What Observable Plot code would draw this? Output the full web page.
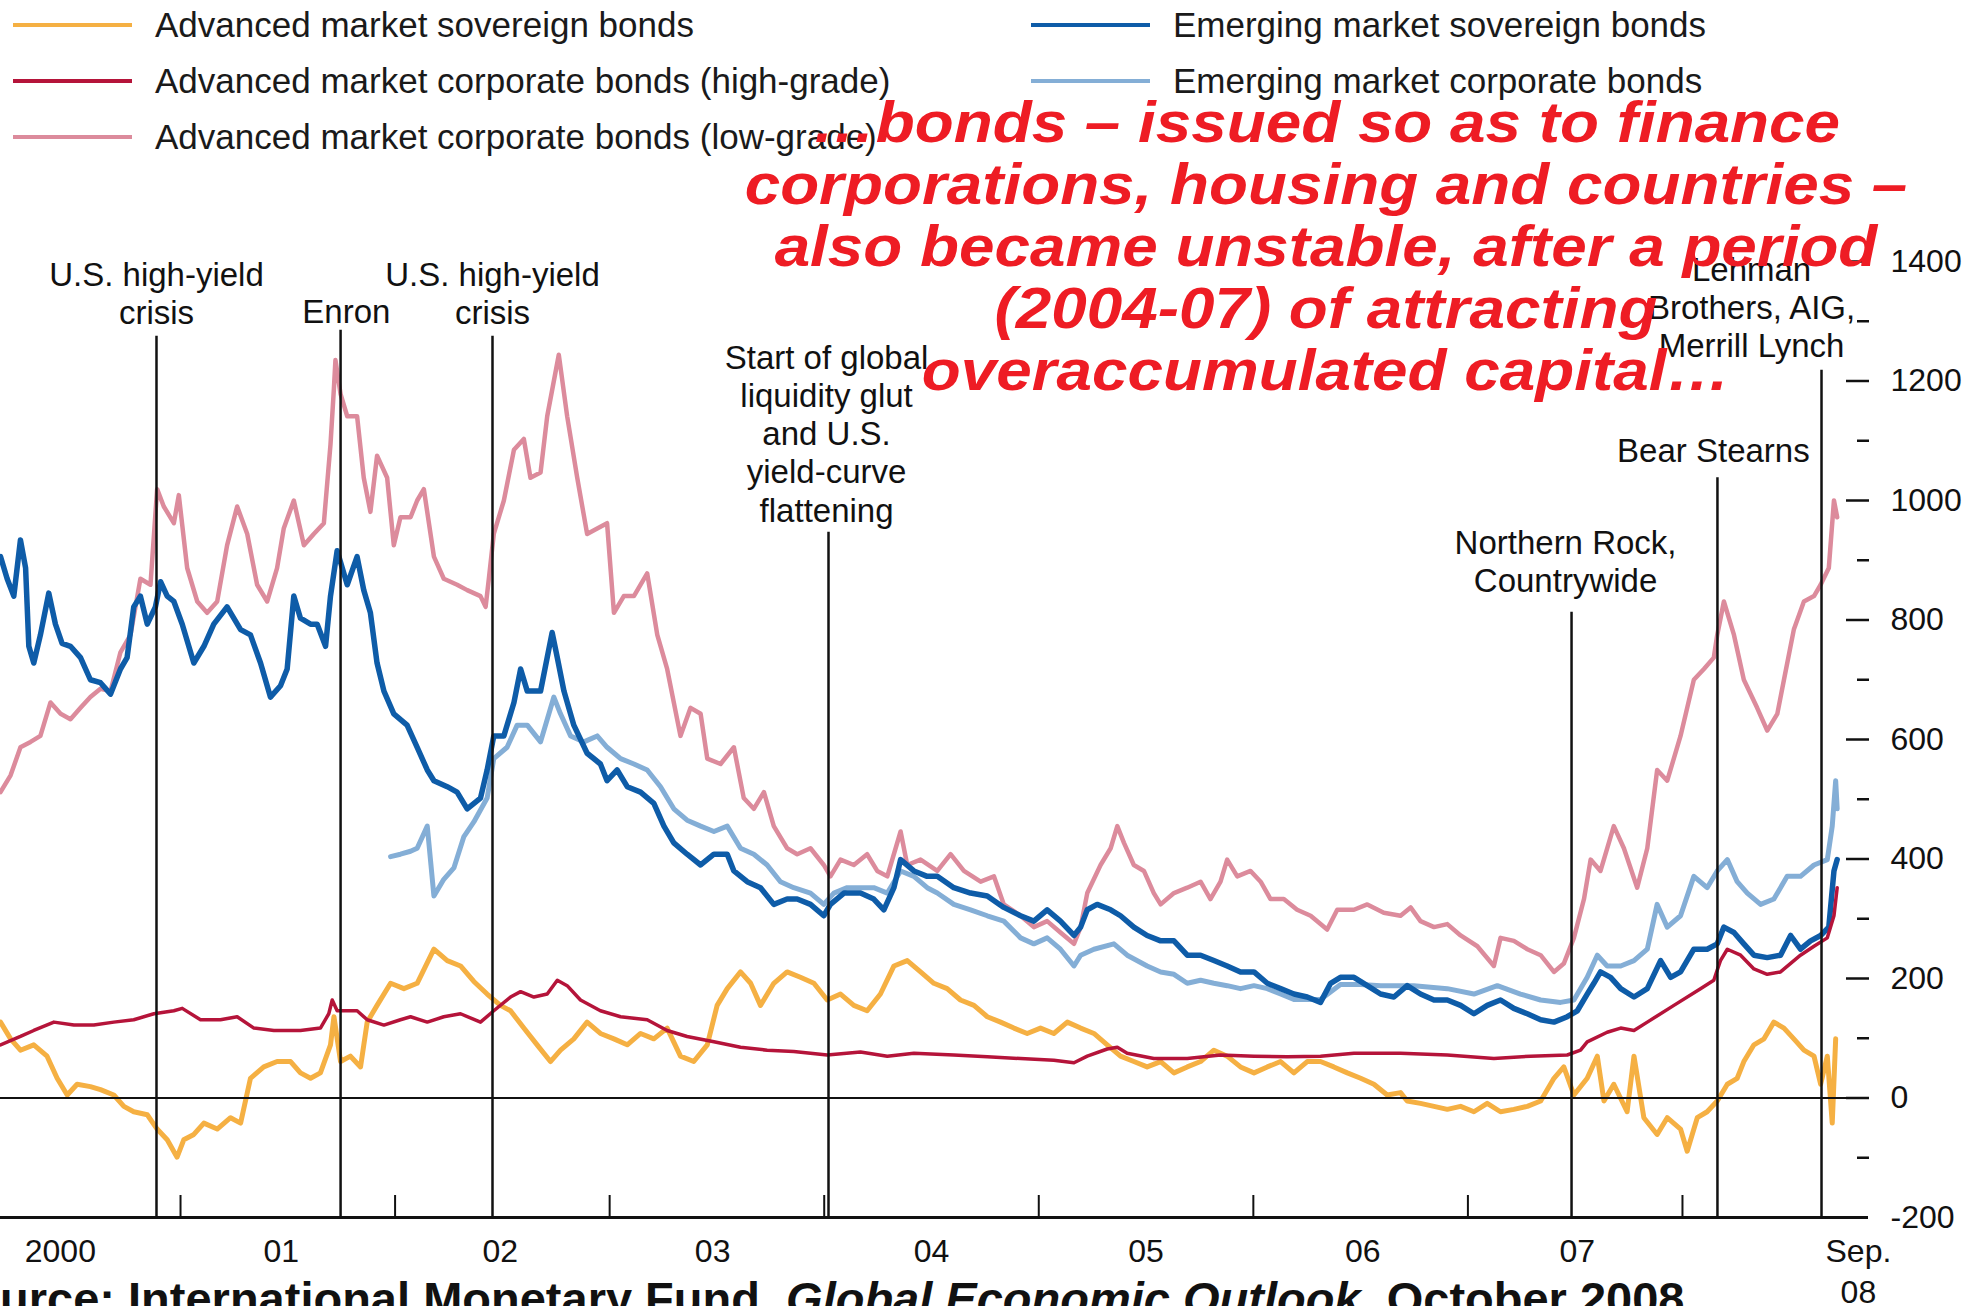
<!DOCTYPE html>
<html><head><meta charset="utf-8">
<script src="https://cdn.jsdelivr.net/npm/d3@7"></script>
<script src="https://cdn.jsdelivr.net/npm/@observablehq/plot@0.6"></script>
<style>
html,body{margin:0;padding:0;background:#fff;}
#page{position:relative;width:1971px;height:1306px;overflow:hidden;font-family:"Liberation Sans",Arial,Helvetica,sans-serif;background:#fff;}
#legend{position:absolute;left:13px;top:-3px;display:grid;grid-auto-flow:column;grid-template-rows:repeat(3,56px);grid-template-columns:1018px auto;}
.item{display:flex;align-items:center;font-size:35px;color:#1a1a1a;white-space:nowrap;}
.sw{width:119px;height:0;border-top:4px solid;margin-right:23px;}
#chart{position:absolute;left:0;top:180px;}
#note{position:absolute;left:676px;width:1300px;top:91px;text-align:center;color:#ee1c24;font:italic bold 58px/62px "Liberation Sans",Arial,sans-serif;white-space:pre;transform:scaleX(1.1);transform-origin:50% 0;}
#source{position:absolute;left:-60px;top:1271px;font:bold 47px "Liberation Sans",Arial,sans-serif;white-space:nowrap;color:#111;}
</style></head>
<body><div id="page"><div id="legend"></div><div id="chart"></div><div id="note"></div><div id="source"></div></div>
<script>
// ---------- data (basis points; x = decimal year) ----------
const seriesNames = [
  "Advanced market sovereign bonds",
  "Advanced market corporate bonds (high-grade)",
  "Advanced market corporate bonds (low-grade)",
  "Emerging market sovereign bonds",
  "Emerging market corporate bonds"
];
const seriesColors = ["#f5b043", "#b5143a", "#dc8b9c", "#0e5ca8", "#84aed6"];

const amSov = [[2000.161,127],[2000.208,99],[2000.254,80],[2000.316,89],[2000.378,70],[2000.425,33],[2000.472,5],[2000.518,23],[2000.580,19],[2000.627,14],[2000.689,5],[2000.736,-14],[2000.782,-23],[2000.845,-28],[2000.891,-52],[2000.938,-70],[2000.984,-99],[2001.015,-70],[2001.062,-61],[2001.109,-42],[2001.171,-52],[2001.233,-33],[2001.280,-42],[2001.326,33],[2001.388,52],[2001.450,61],[2001.513,61],[2001.559,42],[2001.606,33],[2001.652,42],[2001.699,89],[2001.715,136],[2001.746,61],[2001.792,70],[2001.839,52],[2001.870,127],[2001.916,155],[2001.979,192],[2002.041,183],[2002.103,192],[2002.181,249],[2002.243,230],[2002.305,221],[2002.367,195],[2002.429,174],[2002.491,155],[2002.538,146],[2002.600,117],[2002.662,89],[2002.724,61],[2002.771,80],[2002.833,99],[2002.895,127],[2002.957,108],[2003.020,99],[2003.082,89],[2003.144,108],[2003.206,99],[2003.268,117],[2003.330,70],[2003.392,61],[2003.455,89],[2003.501,155],[2003.548,183],[2003.610,211],[2003.657,192],[2003.703,155],[2003.765,192],[2003.827,211],[2003.889,202],[2003.952,192],[2004.014,164],[2004.076,174],[2004.138,155],[2004.200,146],[2004.262,174],[2004.325,221],[2004.387,230],[2004.449,211],[2004.511,192],[2004.573,183],[2004.635,164],[2004.698,155],[2004.760,136],[2004.822,127],[2004.884,117],[2004.946,108],[2005.008,117],[2005.070,108],[2005.133,127],[2005.195,117],[2005.257,108],[2005.319,89],[2005.381,70],[2005.443,61],[2005.505,52],[2005.568,61],[2005.630,42],[2005.692,52],[2005.754,61],[2005.816,80],[2005.878,70],[2005.940,52],[2006.003,42],[2006.065,52],[2006.127,61],[2006.189,42],[2006.251,61],[2006.313,61],[2006.375,52],[2006.438,42],[2006.500,33],[2006.562,23],[2006.624,5],[2006.686,9],[2006.717,-5],[2006.779,-9],[2006.842,-14],[2006.904,-19],[2006.966,-14],[2007.028,-23],[2007.090,-9],[2007.152,-23],[2007.214,-19],[2007.277,-14],[2007.339,-5],[2007.401,33],[2007.447,52],[2007.494,5],[2007.556,33],[2007.603,70],[2007.634,-5],[2007.680,23],[2007.742,-23],[2007.774,70],[2007.820,-33],[2007.882,-61],[2007.929,-33],[2007.991,-52],[2008.022,-89],[2008.069,-33],[2008.115,-23],[2008.162,-5],[2008.209,23],[2008.255,33],[2008.286,61],[2008.333,89],[2008.380,99],[2008.426,127],[2008.473,117],[2008.519,99],[2008.566,80],[2008.613,70],[2008.644,23],[2008.675,70],[2008.698,-42],[2008.714,99]];

const amCorpHigh = [[2000.161,89],[2000.254,103],[2000.316,113],[2000.410,127],[2000.503,122],[2000.596,122],[2000.689,127],[2000.782,131],[2000.876,141],[2000.969,146],[2001.008,150],[2001.093,131],[2001.186,131],[2001.264,136],[2001.342,117],[2001.435,113],[2001.559,113],[2001.652,117],[2001.691,141],[2001.707,164],[2001.730,146],[2001.823,146],[2001.870,131],[2001.948,122],[2002.025,131],[2002.072,136],[2002.150,127],[2002.227,136],[2002.305,141],[2002.398,127],[2002.460,146],[2002.538,169],[2002.585,178],[2002.647,169],[2002.709,174],[2002.756,197],[2002.802,188],[2002.864,164],[2002.957,146],[2003.051,136],[2003.175,131],[2003.268,113],[2003.361,103],[2003.486,94],[2003.610,85],[2003.734,80],[2003.858,78],[2004.014,72],[2004.169,77],[2004.294,70],[2004.418,75],[2004.604,72],[2004.760,69],[2004.915,66],[2005.070,63],[2005.164,59],[2005.226,70],[2005.319,82],[2005.366,85],[2005.412,75],[2005.536,66],[2005.692,66],[2005.847,72],[2006.003,70],[2006.158,69],[2006.313,70],[2006.469,75],[2006.686,75],[2006.904,72],[2007.121,66],[2007.292,70],[2007.463,72],[2007.525,80],[2007.556,94],[2007.649,110],[2007.712,117],[2007.774,113],[2007.836,127],[2007.960,155],[2008.084,183],[2008.146,197],[2008.177,230],[2008.209,249],[2008.271,239],[2008.333,216],[2008.395,207],[2008.457,211],[2008.550,239],[2008.613,254],[2008.675,268],[2008.706,305],[2008.721,352]];

const amCorpLow = [[2000.161,512],[2000.208,540],[2000.254,587],[2000.301,596],[2000.347,606],[2000.394,662],[2000.441,643],[2000.487,634],[2000.534,653],[2000.580,671],[2000.627,685],[2000.674,681],[2000.720,746],[2000.767,775],[2000.813,869],[2000.860,859],[2000.891,1019],[2000.922,990],[2000.969,962],[2000.992,1009],[2001.031,887],[2001.078,831],[2001.124,812],[2001.171,831],[2001.217,925],[2001.264,990],[2001.311,944],[2001.357,859],[2001.404,831],[2001.450,887],[2001.481,953],[2001.528,1000],[2001.575,925],[2001.621,944],[2001.668,962],[2001.699,1094],[2001.715,1188],[2001.722,1235],[2001.746,1178],[2001.777,1141],[2001.823,1141],[2001.854,1038],[2001.885,981],[2001.916,1075],[2001.963,1038],[2001.994,925],[2002.025,972],[2002.072,972],[2002.103,1000],[2002.134,1019],[2002.181,906],[2002.227,869],[2002.289,859],[2002.336,850],[2002.398,840],[2002.422,822],[2002.437,869],[2002.460,944],[2002.507,1000],[2002.554,1085],[2002.600,1103],[2002.631,1038],[2002.678,1047],[2002.709,1141],[2002.763,1244],[2002.802,1141],[2002.849,1038],[2002.895,944],[2002.942,953],[2002.988,962],[2003.020,812],[2003.066,840],[2003.113,840],[2003.175,878],[2003.222,775],[2003.268,718],[2003.330,606],[2003.377,653],[2003.424,643],[2003.455,568],[2003.517,559],[2003.579,587],[2003.625,502],[2003.672,484],[2003.719,512],[2003.765,455],[2003.827,418],[2003.874,408],[2003.936,418],[2003.998,390],[2004.029,371],[2004.076,399],[2004.138,390],[2004.200,408],[2004.247,380],[2004.294,371],[2004.356,446],[2004.387,390],[2004.449,399],[2004.527,380],[2004.589,408],[2004.651,380],[2004.729,362],[2004.791,371],[2004.837,324],[2004.915,305],[2004.977,286],[2005.039,296],[2005.101,277],[2005.164,258],[2005.195,286],[2005.226,343],[2005.288,390],[2005.335,418],[2005.366,455],[2005.397,427],[2005.443,390],[2005.490,380],[2005.536,343],[2005.568,324],[2005.630,343],[2005.692,352],[2005.754,362],[2005.800,333],[2005.847,362],[2005.878,399],[2005.925,371],[2005.987,380],[2006.034,362],[2006.080,333],[2006.142,333],[2006.204,315],[2006.267,305],[2006.344,282],[2006.391,315],[2006.469,315],[2006.531,324],[2006.608,310],[2006.686,305],[2006.733,319],[2006.779,296],[2006.842,286],[2006.904,291],[2006.966,272],[2007.044,254],[2007.121,221],[2007.152,268],[2007.214,263],[2007.277,249],[2007.339,239],[2007.401,211],[2007.447,225],[2007.494,268],[2007.541,333],[2007.572,399],[2007.618,380],[2007.680,455],[2007.727,418],[2007.789,352],[2007.836,418],[2007.882,549],[2007.929,531],[2007.991,606],[2008.053,700],[2008.100,718],[2008.146,737],[2008.162,775],[2008.193,831],[2008.240,775],[2008.286,700],[2008.348,653],[2008.395,615],[2008.442,643],[2008.473,700],[2008.519,784],[2008.566,831],[2008.613,840],[2008.644,859],[2008.682,887],[2008.706,1000],[2008.721,972]];

const emSov = [[2000.161,906],[2000.192,869],[2000.223,840],[2000.254,934],[2000.278,887],[2000.293,756],[2000.316,728],[2000.347,775],[2000.386,845],[2000.417,793],[2000.448,761],[2000.487,756],[2000.534,737],[2000.580,700],[2000.627,695],[2000.674,676],[2000.720,718],[2000.751,737],[2000.782,822],[2000.813,840],[2000.845,793],[2000.883,822],[2000.907,864],[2000.938,840],[2000.969,831],[2001.008,793],[2001.062,728],[2001.109,756],[2001.155,793],[2001.217,822],[2001.280,784],[2001.326,775],[2001.373,728],[2001.419,671],[2001.466,690],[2001.497,718],[2001.528,840],[2001.559,803],[2001.606,793],[2001.637,793],[2001.676,756],[2001.699,840],[2001.730,916],[2001.777,859],[2001.823,906],[2001.854,850],[2001.885,812],[2001.916,728],[2001.948,681],[2001.994,643],[2002.056,624],[2002.103,587],[2002.150,549],[2002.181,531],[2002.243,521],[2002.289,512],[2002.336,484],[2002.398,502],[2002.429,549],[2002.460,606],[2002.507,606],[2002.554,662],[2002.585,718],[2002.616,681],[2002.678,681],[2002.732,779],[2002.756,737],[2002.787,681],[2002.833,624],[2002.895,577],[2002.957,559],[2002.988,531],[2003.035,549],[2003.082,521],[2003.144,512],[2003.206,493],[2003.253,455],[2003.299,427],[2003.361,408],[2003.424,390],[2003.486,408],[2003.548,408],[2003.579,380],[2003.641,362],[2003.703,352],[2003.765,324],[2003.827,333],[2003.874,333],[2003.936,324],[2003.998,305],[2004.029,324],[2004.092,343],[2004.169,343],[2004.231,333],[2004.278,315],[2004.325,352],[2004.356,399],[2004.418,380],[2004.480,371],[2004.527,371],[2004.604,352],[2004.682,343],[2004.760,338],[2004.837,319],[2004.915,305],[2004.977,296],[2005.039,315],[2005.101,296],[2005.164,272],[2005.195,286],[2005.226,315],[2005.272,324],[2005.335,315],[2005.381,305],[2005.443,286],[2005.505,272],[2005.568,263],[2005.630,263],[2005.692,239],[2005.754,239],[2005.816,230],[2005.878,221],[2005.940,211],[2006.003,211],[2006.065,192],[2006.127,183],[2006.189,174],[2006.251,169],[2006.313,160],[2006.360,192],[2006.406,202],[2006.469,202],[2006.531,188],[2006.593,174],[2006.655,169],[2006.717,188],[2006.779,174],[2006.842,164],[2006.904,164],[2006.966,155],[2007.028,141],[2007.090,155],[2007.152,164],[2007.214,150],[2007.277,141],[2007.339,131],[2007.401,127],[2007.463,136],[2007.510,146],[2007.556,174],[2007.587,192],[2007.618,211],[2007.665,202],[2007.712,183],[2007.774,169],[2007.836,183],[2007.898,230],[2007.945,202],[2007.991,211],[2008.053,249],[2008.115,249],[2008.162,258],[2008.193,286],[2008.240,277],[2008.286,258],[2008.333,239],[2008.395,235],[2008.457,239],[2008.504,272],[2008.550,249],[2008.597,263],[2008.644,272],[2008.682,286],[2008.706,380],[2008.721,399]];

const emCorp = [[2001.979,404],[2002.025,408],[2002.072,413],[2002.103,418],[2002.150,455],[2002.181,338],[2002.227,366],[2002.274,385],[2002.320,437],[2002.367,462],[2002.429,502],[2002.460,568],[2002.522,587],[2002.569,624],[2002.616,624],[2002.678,596],[2002.740,671],[2002.771,643],[2002.818,606],[2002.880,596],[2002.942,606],[2002.988,587],[2003.051,568],[2003.113,559],[2003.175,549],[2003.237,521],[2003.299,484],[2003.361,465],[2003.424,455],[2003.486,446],[2003.548,455],[2003.610,418],[2003.672,408],[2003.734,390],[2003.796,362],[2003.858,352],[2003.936,343],[2003.998,324],[2004.045,343],[2004.107,352],[2004.169,352],[2004.231,352],[2004.294,343],[2004.356,380],[2004.418,371],[2004.480,352],[2004.527,343],[2004.604,324],[2004.682,315],[2004.760,305],[2004.837,296],[2004.915,268],[2004.977,258],[2005.039,268],[2005.101,249],[2005.164,221],[2005.195,239],[2005.257,249],[2005.350,258],[2005.412,239],[2005.505,221],[2005.568,211],[2005.630,207],[2005.692,192],[2005.754,197],[2005.816,192],[2005.878,188],[2005.940,183],[2006.003,188],[2006.065,183],[2006.127,174],[2006.189,165],[2006.313,165],[2006.406,190],[2006.500,190],[2006.593,188],[2006.748,188],[2006.904,183],[2007.028,174],[2007.137,188],[2007.245,174],[2007.339,164],[2007.432,160],[2007.494,164],[2007.556,202],[2007.603,239],[2007.649,221],[2007.712,221],[2007.774,230],[2007.836,249],[2007.882,324],[2007.929,286],[2007.991,305],[2008.053,371],[2008.115,352],[2008.162,380],[2008.209,399],[2008.255,362],[2008.302,343],[2008.364,324],[2008.426,333],[2008.488,371],[2008.550,371],[2008.613,390],[2008.675,399],[2008.698,455],[2008.714,531],[2008.721,484]];

const seriesData = [amSov, amCorpHigh, amCorpLow, emSov, emCorp];
const drawOrder = [0, 2, 4, 3, 1];
const strokeWidths = [5, 3.5, 4.5, 5.5, 5];

const eventDates  = [2000.888, 2001.746, 2002.454, 2004.020, 2007.483, 2008.163, 2008.648];
const eventTops   = [1275, 1285, 1275, 947, 813, 1038, 1218];
const eventLabels = ["U.S. high-yield\ncrisis", "Enron", "U.S. high-yield\ncrisis",
  "Start of global\nliquidity glut\nand U.S.\nyield-curve\nflattening",
  "Northern Rock,\nCountrywide", "Bear Stearns", "Lehman\nBrothers, AIG,\nMerrill Lynch"];
const eventLabelX = [2000.888, 2001.773, 2002.454, 2004.011, 2007.455, 2008.144, 2008.322];
const eventLabelY = [1348, 1317, 1348, 1113, 899, 1085, 1324];

const yMajorTicks = [0, 200, 400, 600, 800, 1000, 1200, 1400];
const yMinorTicks = [-100, 100, 300, 500, 700, 900, 1100, 1300];
const yTickLabels = [-200, 0, 200, 400, 600, 800, 1000, 1200, 1400];
const yearTicks = [2001, 2002, 2003, 2004, 2005, 2006, 2007, 2008];
const xLabelText = ["2000", "01", "02", "03", "04", "05", "06", "07", "Sep.\n08"];
const xLabelPos  = [2000.44, 2001.47, 2002.49, 2003.48, 2004.5, 2005.5, 2006.51, 2007.51, 2008.82];

const noteLines = ["…bonds – issued so as to finance", "corporations, housing and countries –",
  "also became unstable, after a period", "(2004-07) of attracting", "overaccumulated capital…"];

// ---------- legend ----------
const legend = document.getElementById("legend");
seriesNames.forEach((name, i) => {
  const it = document.createElement("div");
  it.className = "item";
  it.innerHTML = `<span class="sw" style="border-color:${seriesColors[i]}"></span><span>${name}</span>`;
  legend.appendChild(it);
});

// ---------- chart ----------
const events = eventDates.map((d, i) => ({date: d, top: eventTops[i], label: eventLabels[i], lx: eventLabelX[i], ly: eventLabelY[i]}));
const xLabels = xLabelText.map((t, i) => ({t, x: xLabelPos[i]}));

const lineMarks = drawOrder.map(i => Plot.line(seriesData[i], {
  x: d => d[0], y: d => d[1], stroke: seriesColors[i], strokeWidth: strokeWidths[i],
  strokeLinejoin: "round", strokeLinecap: "round"
}));

const chart = Plot.plot({
  width: 1971, height: 1126,
  marginLeft: 0, marginRight: 103, marginTop: 81, marginBottom: 89,
  x: {domain: [2000.161, 2008.867], axis: null},
  y: {domain: [-200, 1400], axis: null},
  style: {fontFamily: '"Liberation Sans", Arial, sans-serif', fontSize: "32px", color: "#111", background: "transparent", overflow: "visible"},
  marks: [
    ...lineMarks,
    Plot.ruleY([0], {stroke: "#111", strokeWidth: 2}),
    Plot.ruleY([-200], {stroke: "#111", strokeWidth: 3}),
    Plot.ruleX(events, {x: "date", y1: -200, y2: "top", stroke: "#111", strokeWidth: 2.5}),
    Plot.text(events, {x: "lx", y: "ly", text: "label", lineAnchor: "middle", textAnchor: "middle", fontSize: 33, lineHeight: 1.16, fill: "#111"}),
    Plot.axisX(yearTicks, {anchor: "bottom", tickSize: 22, dy: -22, fill: "none", label: null, stroke: "#111", strokeWidth: 2}),
    Plot.text(xLabels, {x: "x", y: () => -200, text: "t", dy: 15, lineAnchor: "top", textAnchor: "middle", fontSize: 32, lineHeight: 1.28, fill: "#111"}),
    Plot.axisY(yMajorTicks, {anchor: "right", tickSize: 23, dx: -23, fill: "none", label: null, stroke: "#111", strokeWidth: 2.5}),
    Plot.axisY(yMinorTicks, {anchor: "right", tickSize: 12, dx: -12, fill: "none", label: null, stroke: "#111", strokeWidth: 2.5}),
    Plot.axisY(yTickLabels, {anchor: "right", tickSize: 0, tickPadding: 22, tickFormat: d => String(d), label: null, fontSize: 32, fill: "#111"})
  ]
});
document.getElementById("chart").appendChild(chart);

// ---------- overlay note & source ----------
document.getElementById("note").textContent = noteLines.join("\n");
document.getElementById("source").innerHTML = 'Source: International Monetary Fund, <i>Global Economic Outlook</i>, October 2008';
</script>
</body></html>
